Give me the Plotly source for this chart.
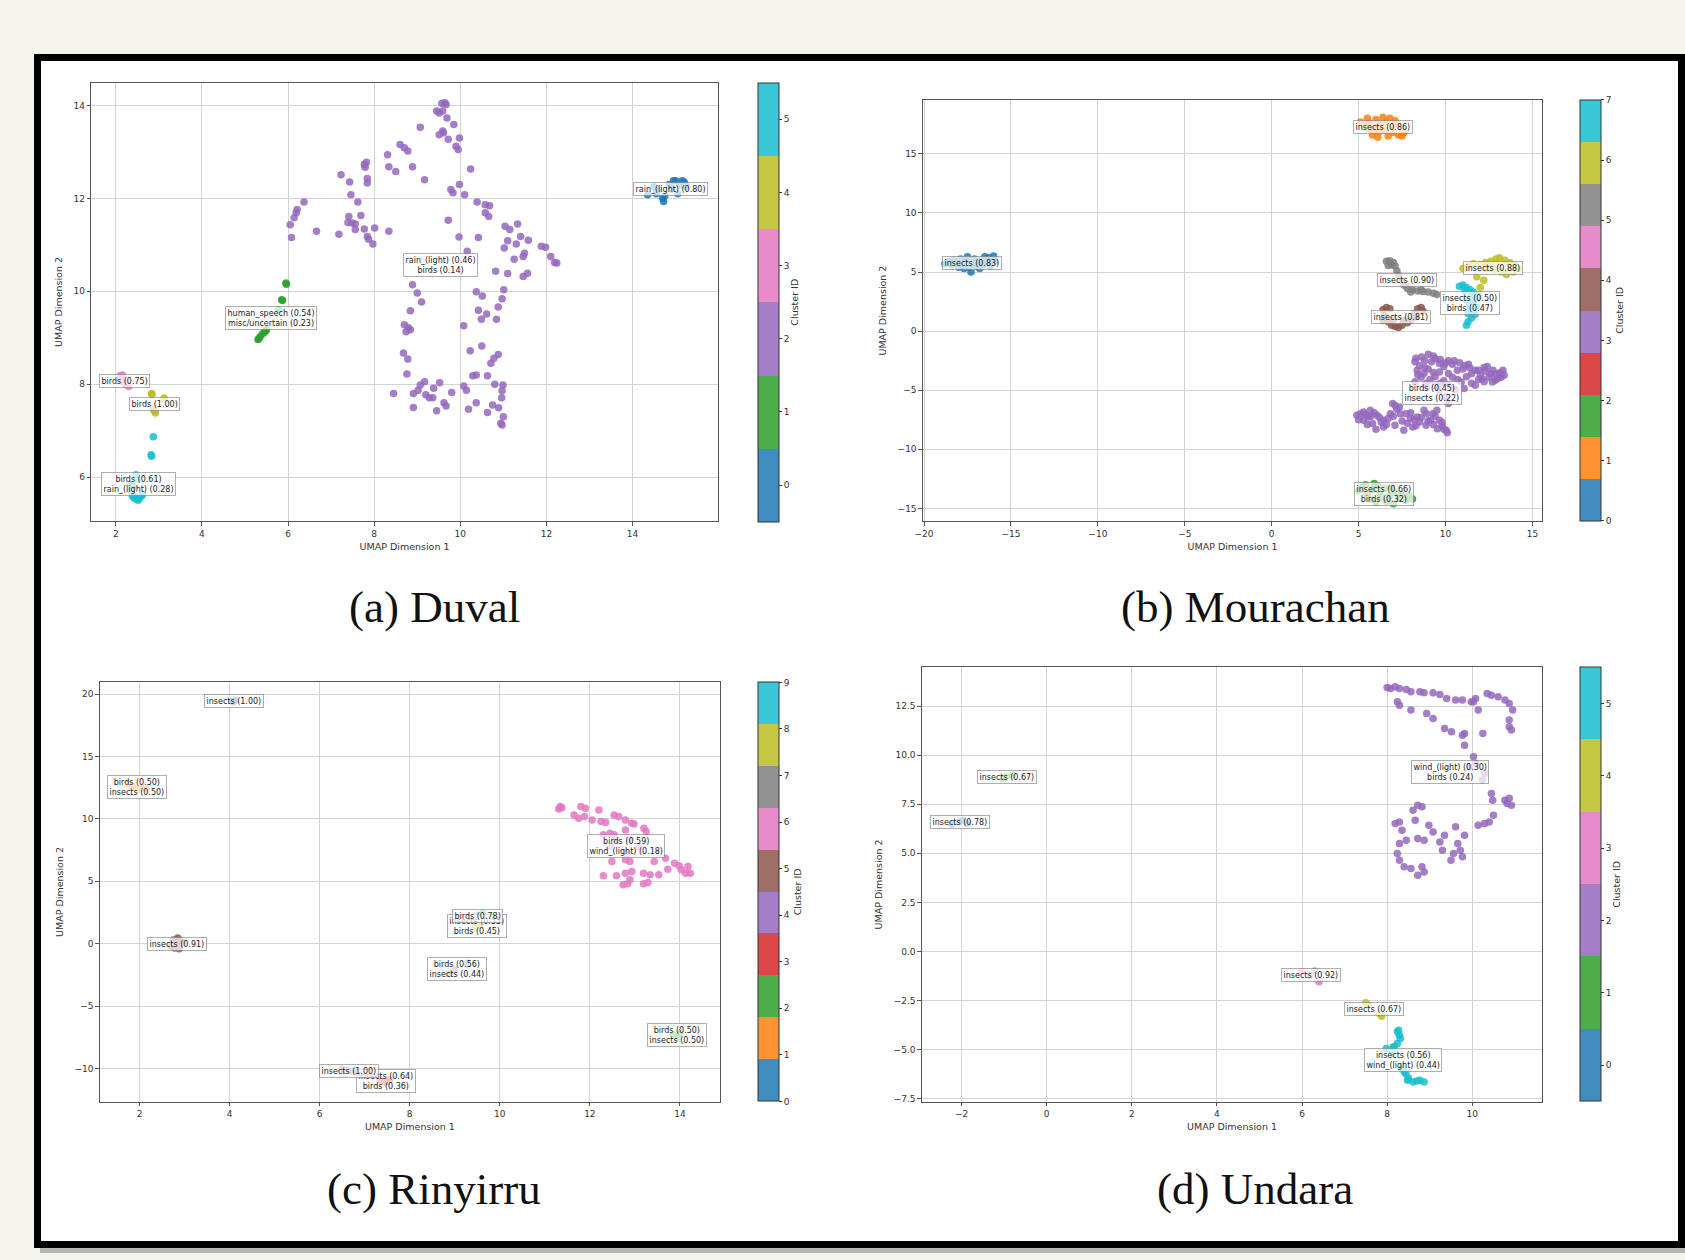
import plotly.graph_objects as go

W, H = 1685, 1260
TAB10 = ['#1f77b4', '#ff7f0e', '#2ca02c', '#d62728', '#9467bd',
         '#8c564b', '#e377c2', '#7f7f7f', '#bcbd22', '#17becf']

# ---------------- Panel (a) Duval ----------------
A_C0 = [(14.35, 12.08), (14.5, 12.25), (14.6, 12.2), (14.7, 12.0), (14.75, 12.05), (14.72, 11.93),
        (14.85, 12.3), (14.95, 12.38), (15.05, 12.1), (15.15, 12.38), (15.2, 12.35), (15.25, 12.25),
        (14.9, 12.2), (15.1, 12.28), (14.55, 12.1), (15.0, 12.38), (15.22, 12.3)]
A_C1 = [(5.95, 10.18), (5.96, 10.15), (5.85, 9.82), (5.87, 9.8), (5.78, 9.6), (5.5, 9.17), (5.45, 9.12),
        (5.4, 9.08), (5.35, 9.02), (5.3, 8.96), (5.32, 8.98), (5.48, 9.15)]
A_C2 = [(9.64, 14.06), (9.57, 14.04), (9.67, 14.02), (9.45, 13.88), (9.59, 13.88), (9.51, 13.84), (9.69, 13.73),
        (9.85, 13.59), (9.07, 13.53), (9.59, 13.45), (9.61, 13.41), (9.51, 13.37), (9.98, 13.3), (9.72, 13.27),
        (9.9, 13.12), (9.95, 13.05), (8.6, 13.16), (8.7, 13.09), (8.78, 13.02), (8.31, 12.94), (7.82, 12.78),
        (7.77, 12.73), (7.79, 12.67), (8.34, 12.68), (8.5, 12.58), (8.89, 12.68), (10.24, 12.63), (7.23, 12.51),
        (7.43, 12.35), (7.84, 12.43), (7.84, 12.33), (9.17, 12.4), (9.98, 12.3), (9.78, 12.19), (9.83, 12.12),
        (10.1, 12.08), (7.46, 12.08), (7.62, 11.92), (6.37, 11.92), (6.21, 11.76), (6.19, 11.69), (6.14, 11.58),
        (6.05, 11.43), (6.08, 11.16), (6.66, 11.29), (7.18, 11.23), (7.41, 11.61), (7.39, 11.48), (7.49, 11.47),
        (7.56, 11.45), (7.69, 11.63), (7.56, 11.33), (7.77, 11.34), (8.01, 11.36), (7.84, 11.18), (7.87, 11.12),
        (7.97, 11.02), (8.34, 11.29), (10.39, 11.92), (10.58, 11.86), (10.68, 11.84), (10.58, 11.69),
        (10.66, 11.61), (9.72, 11.53), (9.97, 11.17), (10.42, 11.16), (10.16, 10.86), (11.04, 11.4),
        (11.15, 11.33), (11.33, 11.45), (11.4, 11.18), (11.58, 11.1), (11.1, 11.09), (11.3, 11.02),
        (11.02, 10.93), (11.25, 10.69), (11.49, 10.82), (11.46, 10.75), (11.88, 10.97), (11.98, 10.95),
        (12.1, 10.75), (12.19, 10.62), (12.24, 10.61), (10.82, 10.43), (11.1, 10.38), (11.46, 10.32),
        (11.56, 10.39), (8.89, 10.14), (9.0, 9.96), (9.1, 9.77), (8.84, 9.58), (10.37, 9.99), (10.51, 9.9),
        (11.01, 10.03), (10.97, 9.84), (10.88, 9.66), (10.42, 9.59), (10.61, 9.51), (10.49, 9.4), (10.84, 9.4),
        (10.08, 9.26), (8.7, 9.28), (8.79, 9.22), (8.74, 9.13), (8.84, 9.17), (8.68, 8.67), (8.78, 8.54),
        (10.23, 8.72), (10.5, 8.82), (10.88, 8.64), (10.78, 8.56), (10.71, 8.45), (8.76, 8.22), (10.29, 8.18),
        (10.37, 8.2), (10.63, 8.18), (9.17, 8.05), (9.07, 7.98), (9.52, 8.03), (10.08, 7.96), (10.8, 8.0),
        (10.99, 7.98), (8.45, 7.8), (8.91, 7.8), (9.02, 7.87), (9.2, 7.77), (9.28, 7.71), (9.36, 7.71),
        (9.38, 7.91), (9.8, 7.82), (10.14, 7.87), (10.97, 7.86), (10.96, 7.71), (10.37, 7.6), (9.62, 7.6),
        (9.67, 7.53), (8.91, 7.5), (9.45, 7.43), (10.19, 7.46), (10.75, 7.55), (10.89, 7.49), (10.63, 7.39),
        (11.0, 7.3), (10.94, 7.16), (10.97, 7.12)]
A_C3 = [(2.1, 8.18), (2.15, 8.2), (2.2, 8.1), (2.25, 7.98), (2.3, 7.95), (2.18, 8.05), (2.12, 8.08), (2.22, 8.0)]
A_C4 = [(2.83, 7.8), (2.84, 7.78), (3.12, 7.7), (2.88, 7.5), (2.9, 7.42), (2.92, 7.38), (2.87, 7.45)]
A_C5 = [(2.87, 6.87), (2.82, 6.48), (2.83, 6.45), (2.47, 6.05), (2.5, 5.95), (2.4, 5.8), (2.35, 5.7),
        (2.38, 5.6), (2.42, 5.55), (2.48, 5.52), (2.52, 5.5), (2.6, 5.6), (2.62, 5.62), (2.45, 5.58),
        (2.55, 5.55), (2.33, 5.85)]
A_LABELS = ["rain_(light) (0.80)", "human_speech (0.54)<br>misc/uncertain (0.23)",
            "rain_(light) (0.46)<br>birds (0.14)", "birds (0.75)", "birds (1.00)",
            "birds (0.61)<br>rain_(light) (0.28)"]

# ---------------- Panel (b) Mourachan ----------------
B_C0 = [(-18.8, 5.7), (-18.6, 5.9), (-18.4, 5.6), (-18.3, 6.0), (-18.1, 5.8), (-17.9, 6.1), (-17.8, 5.5),
        (-17.6, 5.9), (-17.5, 6.3), (-17.4, 5.4), (-17.3, 5.0), (-17.2, 5.7), (-17.1, 6.1), (-17.0, 5.5),
        (-16.9, 5.9), (-16.8, 5.3), (-16.7, 6.0), (-16.6, 5.6), (-16.4, 5.8), (-16.3, 6.2), (-16.2, 5.5),
        (-16.0, 6.35), (-15.9, 5.9), (-16.5, 6.3), (-18.0, 5.4), (-17.7, 5.3), (-16.1, 6.0)]
B_C1 = [(5.1, 17.7), (5.3, 17.4), (5.5, 18.0), (5.6, 17.6), (5.8, 16.6), (5.9, 17.2), (6.0, 17.9),
        (6.1, 16.4), (6.2, 16.9), (6.3, 17.5), (6.4, 18.1), (6.5, 17.0), (6.6, 17.7), (6.8, 18.0),
        (6.9, 17.3), (7.0, 16.8), (7.1, 17.8), (7.2, 17.5), (7.3, 16.6), (7.5, 16.5), (7.6, 16.8),
        (6.7, 16.5), (5.6, 17.1)]
B_C2 = [(5.0, -13.5), (5.2, -13.2), (5.4, -13.0), (5.5, -13.8), (5.7, -14.2), (5.8, -13.4), (5.9, -12.9),
        (6.0, -14.5), (6.2, -13.7), (6.3, -14.0), (6.5, -13.3), (6.6, -14.4), (6.8, -13.9), (7.0, -14.6),
        (7.1, -13.6), (7.3, -14.1), (7.5, -13.8), (7.7, -14.3), (7.9, -13.9), (8.1, -14.2), (6.1, -13.1),
        (6.9, -13.2)]
B_C3 = [(8.24, -2.6), (8.63, -2.18), (9.01, -1.95), (9.4, -2.32), (9.65, -2.74), (10.17, -2.51),
        (10.81, -2.68), (11.32, -2.8), (11.71, -3.3), (12.22, -3.08), (12.73, -3.3), (13.12, -3.53),
        (13.37, -3.73), (12.86, -4.15), (12.22, -4.29), (11.71, -4.58), (11.07, -4.86), (10.55, -4.94),
        (8.37, -3.3), (8.76, -3.59), (9.4, -3.87), (9.65, -3.45), (10.17, -3.59), (10.68, -3.3),
        (11.2, -3.87), (8.24, -4.29), (8.88, -4.43), (9.65, -5.0), (10.04, -5.56), (10.17, -6.13),
        (8.5, -2.9), (9.2, -2.6), (9.9, -3.0), (10.4, -2.8), (11.0, -3.2), (11.5, -3.6), (12.0, -3.7),
        (12.5, -3.9), (13.0, -4.0), (12.6, -3.6), (11.9, -4.1), (10.9, -4.3), (10.2, -4.6), (9.0, -3.2),
        (8.6, -3.9), (9.9, -4.2), (8.9, -4.8), (9.4, -4.6), (12.4, -3.0), (13.3, -3.3),
        (8.3, -2.3), (8.8, -2.5), (9.3, -2.1), (9.7, -2.4), (10.0, -2.7), (10.5, -2.5), (11.1, -2.9),
        (11.4, -3.1), (11.9, -3.3), (12.3, -3.4), (12.9, -3.6), (13.2, -3.9), (12.7, -4.3), (12.1, -4.0),
        (11.5, -4.4), (10.7, -4.1), (10.4, -3.9), (9.3, -3.5), (8.8, -3.1), (8.4, -3.7), (9.1, -4.1),
        (9.7, -4.4),
        (4.9, -7.12), (5.29, -6.84), (5.67, -6.7), (6.06, -7.12), (6.44, -7.54), (6.83, -6.98),
        (6.96, -6.13), (7.34, -6.41), (7.73, -6.98), (8.37, -7.26), (8.76, -6.7), (9.27, -6.98),
        (9.65, -7.54), (10.04, -8.39), (9.53, -8.25), (8.88, -7.97), (8.11, -8.11), (7.6, -8.39),
        (7.09, -7.97), (6.44, -8.11), (5.8, -7.82), (5.29, -7.54), (5.54, -7.26), (8.5, -7.68),
        (7.98, -7.4), (9.14, -7.54), (5.0, -7.5), (5.5, -7.9), (6.2, -7.3), (6.6, -7.9), (7.0, -7.2),
        (7.2, -6.6), (7.5, -7.6), (8.0, -6.9), (8.3, -8.0), (8.9, -7.0), (9.3, -7.9), (9.8, -8.0),
        (10.1, -8.6), (9.5, -6.7), (6.0, -8.3), (5.7, -7.2),
        (5.1, -7.0), (5.4, -7.1), (5.9, -6.9), (6.3, -7.7), (6.7, -7.4), (7.1, -6.3), (7.4, -7.0),
        (7.8, -7.8), (8.2, -7.5), (8.6, -7.3), (9.0, -7.6), (9.4, -7.2), (9.8, -7.7), (9.9, -8.3)]
B_C4 = [(6.4, 1.8), (6.6, 2.0), (6.8, 1.9), (6.5, 1.3), (6.7, 0.8), (6.9, 0.5), (7.1, 0.4), (7.3, 0.3),
        (7.5, 0.5), (7.8, 0.7), (8.0, 0.9), (8.2, 1.5), (8.4, 1.9), (8.6, 2.0), (8.7, 1.7), (8.3, 1.2),
        (7.0, 1.0), (7.6, 0.9), (6.4, 0.9)]
B_C5 = [(6.6, 5.9), (6.8, 5.95), (7.0, 5.8), (6.9, 5.6), (7.1, 5.5), (6.7, 5.55), (7.2, 5.1), (7.3, 4.7),
        (7.5, 4.2), (7.6, 3.9), (7.8, 3.6), (8.1, 3.5), (8.4, 3.4), (8.7, 3.35), (9.0, 3.3), (9.3, 3.2),
        (9.5, 3.1), (8.0, 3.3), (8.6, 3.5), (7.7, 4.0)]
B_C6 = [(11.0, 5.3), (11.3, 5.5), (11.6, 5.7), (12.0, 5.6), (12.3, 5.8), (12.6, 5.9), (12.9, 6.1),
        (13.1, 6.2), (13.4, 6.0), (13.7, 5.8), (14.0, 5.6), (14.2, 5.3), (13.9, 5.0), (13.5, 4.8),
        (13.2, 5.0), (12.8, 5.2), (12.4, 5.3), (13.6, 5.4), (13.0, 5.6), (12.2, 4.3), (12.0, 3.7), (11.8, 4.6)]
B_C7 = [(10.8, 3.8), (11.0, 3.9), (11.2, 3.7), (11.1, 3.4), (11.4, 3.5), (11.6, 3.3), (11.5, 3.0),
        (11.7, 2.7), (11.6, 2.4), (11.4, 2.2), (11.8, 2.0), (11.6, 1.7), (11.3, 1.5), (11.7, 1.4),
        (11.5, 1.1), (11.3, 0.8), (11.2, 0.5), (11.4, 1.9), (11.9, 2.9), (11.2, 2.6)]
B_LABELS = ["insects (0.83)", "insects (0.86)", "insects (0.66)<br>birds (0.32)",
            "birds (0.45)<br>insects (0.22)", "insects (0.81)", "insects (0.90)",
            "insects (0.88)", "insects (0.50)<br>birds (0.47)"]

# ---------------- Panel (c) Rinyirru ----------------
C_C0 = [(4.05, 19.42), (4.12, 19.5), (4.09, 19.38)]
C_C1 = [(1.75, 12.8), (1.85, 12.65), (2.05, 12.5), (2.15, 12.4), (1.95, 12.35)]
C_C2 = [(13.85, -7.3), (13.95, -7.5), (14.0, -7.2)]
C_C3 = [(7.35, -10.95), (7.5, -11.05), (7.55, -10.9), (7.45, -11.1)]
C_C4 = [(6.5, -10.05), (6.6, -10.15), (6.7, -10.2), (6.85, -10.3)]
C_C5 = [(2.75, 0.3), (2.85, 0.45), (2.9, 0.2), (2.8, -0.1), (2.78, -0.35), (2.88, -0.4), (2.7, -0.2), (2.95, 0.1)]
C_C6 = [(11.34, 10.99), (11.38, 10.9), (11.31, 10.8), (11.65, 10.32), (11.8, 10.99), (11.9, 10.85),
        (11.75, 10.05), (11.88, 10.19), (12.05, 9.92), (12.2, 10.72), (12.35, 9.71), (12.25, 9.79),
        (12.54, 10.32), (12.64, 10.19), (12.79, 9.92), (12.93, 9.65), (12.98, 9.6), (13.2, 9.25),
        (13.25, 8.99), (12.79, 9.12), (12.45, 8.85), (12.54, 8.72), (12.59, 8.32), (12.89, 8.32),
        (13.08, 7.79), (12.84, 7.25), (12.49, 6.59), (12.79, 6.72), (12.89, 6.59), (13.43, 6.59),
        (13.68, 6.85), (13.88, 6.45), (13.98, 6.24), (14.18, 6.19), (14.13, 5.65), (14.23, 5.65),
        (14.03, 5.92), (13.73, 5.97), (12.3, 5.44), (12.59, 5.44), (12.79, 5.65), (12.93, 5.79),
        (13.19, 5.65), (13.34, 5.52), (13.53, 5.52), (12.74, 4.72), (12.84, 4.8), (12.89, 5.12),
        (13.19, 4.8), (13.29, 4.91), (12.3, 8.72), (12.45, 7.79)]
C_C7 = [(9.28, -1.55), (8.88, -2.4), (9.0, -2.1)]
C_C8 = [(9.45, 1.3), (9.55, 1.45), (9.5, 1.6)]
C_C9 = [(9.5, 2.3), (9.62, 2.45), (9.4, 2.0)]
C_LABELS = ["insects (1.00)", "birds (0.50)<br>insects (0.50)", "birds (0.50)<br>insects (0.50)",
            "insects (0.64)<br>birds (0.36)", "insects (1.00)", "insects (0.91)",
            "birds (0.59)<br>wind_(light) (0.18)", "birds (0.56)<br>insects (0.44)",
            "insects (0.55)<br>birds (0.45)", "birds (0.78)"]

# ---------------- Panel (d) Undara ----------------
D_C0 = [(-2.23, 6.48), (-1.97, 6.69), (-1.86, 6.52), (-2.05, 6.6)]
D_C1 = [(-1.02, 8.81), (-0.81, 8.98), (-0.95, 8.9)]
D_C2 = [(8.0, 13.45), (8.08, 13.4), (8.19, 13.49), (8.29, 13.4), (8.45, 13.35), (8.56, 13.23), (8.77, 13.23),
        (8.87, 13.18), (9.08, 13.18), (9.24, 13.09), (9.4, 12.89), (9.61, 12.81), (9.77, 12.81),
        (8.24, 12.72), (8.29, 12.55), (8.56, 12.3), (8.93, 12.13), (9.08, 11.87), (9.35, 11.36),
        (9.51, 11.19), (9.77, 11.02), (9.82, 10.51), (9.82, 11.1), (9.98, 12.72), (10.08, 12.89),
        (10.35, 13.15), (10.45, 13.06), (10.61, 12.98), (10.77, 12.81), (10.87, 12.64), (10.95, 12.3),
        (10.87, 11.79), (10.87, 11.45), (10.92, 11.28), (10.14, 12.3), (10.25, 11.11), (10.03, 12.72),
        (10.03, 9.92), (10.08, 9.58), (9.93, 9.41), (10.24, 8.73), (10.29, 9.07), (10.45, 8.05),
        (10.48, 7.71), (10.77, 7.71), (10.82, 7.54), (10.92, 7.45), (10.87, 7.8), (10.5, 6.94),
        (10.29, 6.52), (10.4, 6.6), (10.14, 6.43), (8.72, 7.45), (8.82, 7.37), (8.61, 7.2), (8.29, 6.6),
        (8.19, 6.52), (8.35, 6.18), (8.29, 5.5), (8.24, 4.99), (8.29, 4.65), (8.4, 4.31), (8.56, 4.22),
        (8.72, 3.88), (8.87, 4.05), (8.82, 4.31), (8.66, 6.69), (8.72, 5.75), (8.87, 5.67), (8.98, 6.43),
        (9.08, 6.09), (9.24, 5.58), (9.35, 5.92), (9.61, 6.35), (9.66, 5.5), (9.72, 5.16), (9.56, 4.99),
        (9.5, 4.65), (9.77, 4.82), (9.82, 5.92), (9.3, 5.16), (8.45, 5.67)]
D_C3 = [(5.98, -1.04), (6.19, -1.21), (6.4, -1.55), (6.3, -1.0)]
D_C4 = [(7.5, -2.62), (7.82, -3.17), (7.87, -3.3), (7.55, -2.75)]
D_C5 = [(8.27, -4.02), (8.29, -4.27), (8.24, -4.7), (8.17, -4.87), (7.98, -4.95), (8.12, -5.2),
        (8.35, -5.97), (8.4, -6.14), (8.48, -6.57), (8.61, -6.65), (8.77, -6.57), (8.87, -6.65),
        (8.5, -6.45), (8.69, -6.6), (8.24, -4.1), (8.31, -4.44), (8.14, -4.87), (8.44, -6.23)]
D_LABELS = ["insects (0.78)", "insects (0.67)", "wind_(light) (0.30)<br>birds (0.24)",
            "insects (0.92)", "insects (0.67)", "insects (0.56)<br>wind_(light) (0.44)"]

CAPTIONS = ["(a) Duval", "(b) Mourachan", "(c) Rinyirru", "(d) Undara"]

# ---------------- layout geometry (pixels) ----------------
PANELS = [
    dict(clusters=[A_C0, A_C1, A_C2, A_C3, A_C4, A_C5], labels=A_LABELS, mode="discrete",
         box=(91.3, 717.8, 82.7, 521.2), xr=(1.43, 15.98), yr=(5.05, 14.49),
         xt=[2, 4, 6, 8, 10, 12, 14], yt=[6, 8, 10, 12, 14], yfmt="d", cb=757.6, cap=(434, 607)),
    dict(clusters=[B_C0, B_C1, B_C2, B_C3, B_C4, B_C5, B_C6, B_C7], labels=B_LABELS, mode="cont",
         box=(923, 1542, 99.9, 521.2), xr=(-20.06, 15.55), yr=(-16.08, 19.56),
         xt=[-20, -15, -10, -5, 0, 5, 10, 15], yt=[-15, -10, -5, 0, 5, 10, 15], yfmt="d", cb=1579.7,
         cap=(1255, 607)),
    dict(clusters=[C_C0, C_C1, C_C2, C_C3, C_C4, C_C5, C_C6, C_C7, C_C8, C_C9], labels=C_LABELS,
         mode="cont", box=(99.9, 720, 682.4, 1101.5), xr=(1.12, 14.89), yr=(-12.65, 20.94),
         xt=[2, 4, 6, 8, 10, 12, 14], yt=[-10, -5, 0, 5, 10, 15, 20], yfmt="d", cb=757.6, cap=(434, 1189)),
    dict(clusters=[D_C0, D_C1, D_C2, D_C3, D_C4, D_C5], labels=D_LABELS, mode="discrete",
         box=(922, 1542, 667.3, 1101.5), xr=(-2.93, 11.64), yr=(-7.65, 14.48),
         xt=[-2, 0, 2, 4, 6, 8, 10], yt=[-7.5, -5, -2.5, 0, 2.5, 5, 7.5, 10, 12.5], yfmt=".1f", cb=1579.7,
         cap=(1255, 1189)),
]

ALPHA = 0.85


def rgba(hexc, a=ALPHA):
    h = hexc.lstrip('#')
    return "rgba(%d,%d,%d,%.2f)" % (int(h[0:2], 16), int(h[2:4], 16), int(h[4:6], 16), a)


def px(x):
    return x / W


def py(y):
    return 1 - y / H


fig = go.Figure()
annotations = []
FONT = "DejaVu Sans"

for i, p in enumerate(PANELS):
    n = len(p["clusters"])
    xs, ys, ids = [], [], []
    for cid, pts in enumerate(p["clusters"]):
        for (x, y) in pts:
            xs.append(x)
            ys.append(y)
            ids.append(cid)
    if p["mode"] == "discrete":
        cols = [TAB10[min(int(k / (n - 1) * 10), 9)] for k in range(n)]
        cscale = []
        for k, c in enumerate(cols):
            cscale.append([k / n, rgba(c)])
            cscale.append([(k + 1) / n, rgba(c)])
        cmin, cmax = -0.5, n - 0.5
    else:
        cscale = []
        for k, c in enumerate(TAB10):
            cscale.append([k / 10, rgba(c)])
            cscale.append([(k + 1) / 10, rgba(c)])
        cmin, cmax = 0, n - 1
    x0, x1, y0, y1 = p["box"]
    sfx = "" if i == 0 else str(i + 1)
    fig.add_trace(go.Scatter(
        x=xs, y=ys, mode="markers", xaxis="x" + sfx, yaxis="y" + sfx, showlegend=False,
        hoverinfo="skip",
        marker=dict(size=7.5, color=ids, colorscale=cscale, cmin=cmin, cmax=cmax, line=dict(width=0),
                    showscale=True,
                    colorbar=dict(x=px(p["cb"]), xanchor="left", y=py(y0), yanchor="top",
                                  len=(y1 - y0) / H, lenmode="fraction", thickness=21,
                                  thicknessmode="pixels", xpad=0, ypad=0, outlinewidth=1,
                                  outlinecolor="#333", ticks="outside", ticklen=3, tickcolor="#333",
                                  tickvals=list(range(n)),
                                  tickfont=dict(family=FONT, size=9, color="#333"),
                                  title=dict(text="Cluster ID", side="right",
                                             font=dict(family=FONT, size=9.5, color="#333"))))))
    axcommon = dict(showline=True, mirror=True, linecolor="#555", linewidth=1.2, showgrid=True,
                    gridcolor="#d4d4d4", gridwidth=1, zeroline=False, ticks="outside", ticklen=3.5,
                    tickcolor="#555", tickfont=dict(family=FONT, size=9, color="#333"),
                    automargin=False)
    fig.layout["xaxis" + sfx] = dict(
        axcommon, domain=[px(x0), px(x1)], range=list(p["xr"]), tickvals=p["xt"],
        anchor="y" + sfx,
        title=dict(text="UMAP Dimension 1", standoff=5, font=dict(family=FONT, size=9.5, color="#333")))
    fig.layout["yaxis" + sfx] = dict(
        axcommon, domain=[py(y1), py(y0)], range=list(p["yr"]), tickvals=p["yt"], tickformat=p["yfmt"],
        anchor="x" + sfx,
        title=dict(text="UMAP Dimension 2", standoff=9, font=dict(family=FONT, size=9.5, color="#333")))
    # cluster labels at cluster centroids
    for cid, pts in enumerate(p["clusters"]):
        mx = sum(q[0] for q in pts) / len(pts)
        my = sum(q[1] for q in pts) / len(pts)
        annotations.append(dict(x=mx, y=my, xref="x" + sfx, yref="y" + sfx, text=p["labels"][cid],
                                showarrow=False, font=dict(family=FONT, size=8, color="#222"),
                                bgcolor="rgba(255,255,255,0.72)", bordercolor="rgba(120,120,120,0.6)",
                                borderwidth=1, borderpad=1.5, align="center"))
    annotations.append(dict(x=px(p["cap"][0]), y=py(p["cap"][1]), xref="paper", yref="paper",
                            text=CAPTIONS[i], showarrow=False, xanchor="center", yanchor="middle",
                            font=dict(family="Liberation Serif", size=45, color="#111")))

shapes = [
    dict(type="rect", xref="paper", yref="paper", x0=px(40), x1=px(1690), y0=py(1253), y1=py(60),
         line=dict(width=0), fillcolor="#b8b8b4", layer="below"),
    dict(type="rect", xref="paper", yref="paper", x0=px(37.5), x1=px(1681.5), y0=py(1244.5),
         y1=py(57.5), line=dict(width=7, color="#000"), fillcolor="#ffffff", layer="below"),
]

fig.update_layout(width=W, height=H, autosize=False, margin=dict(l=0, r=0, t=0, b=0, pad=0),
                  paper_bgcolor="#f4f3ec", plot_bgcolor="rgba(0,0,0,0)",
                  annotations=annotations, shapes=shapes)

fig.write_html("out.html", config={"displayModeBar": False},
               post_script="document.body.style.margin='0px';document.body.style.overflow='hidden';")
